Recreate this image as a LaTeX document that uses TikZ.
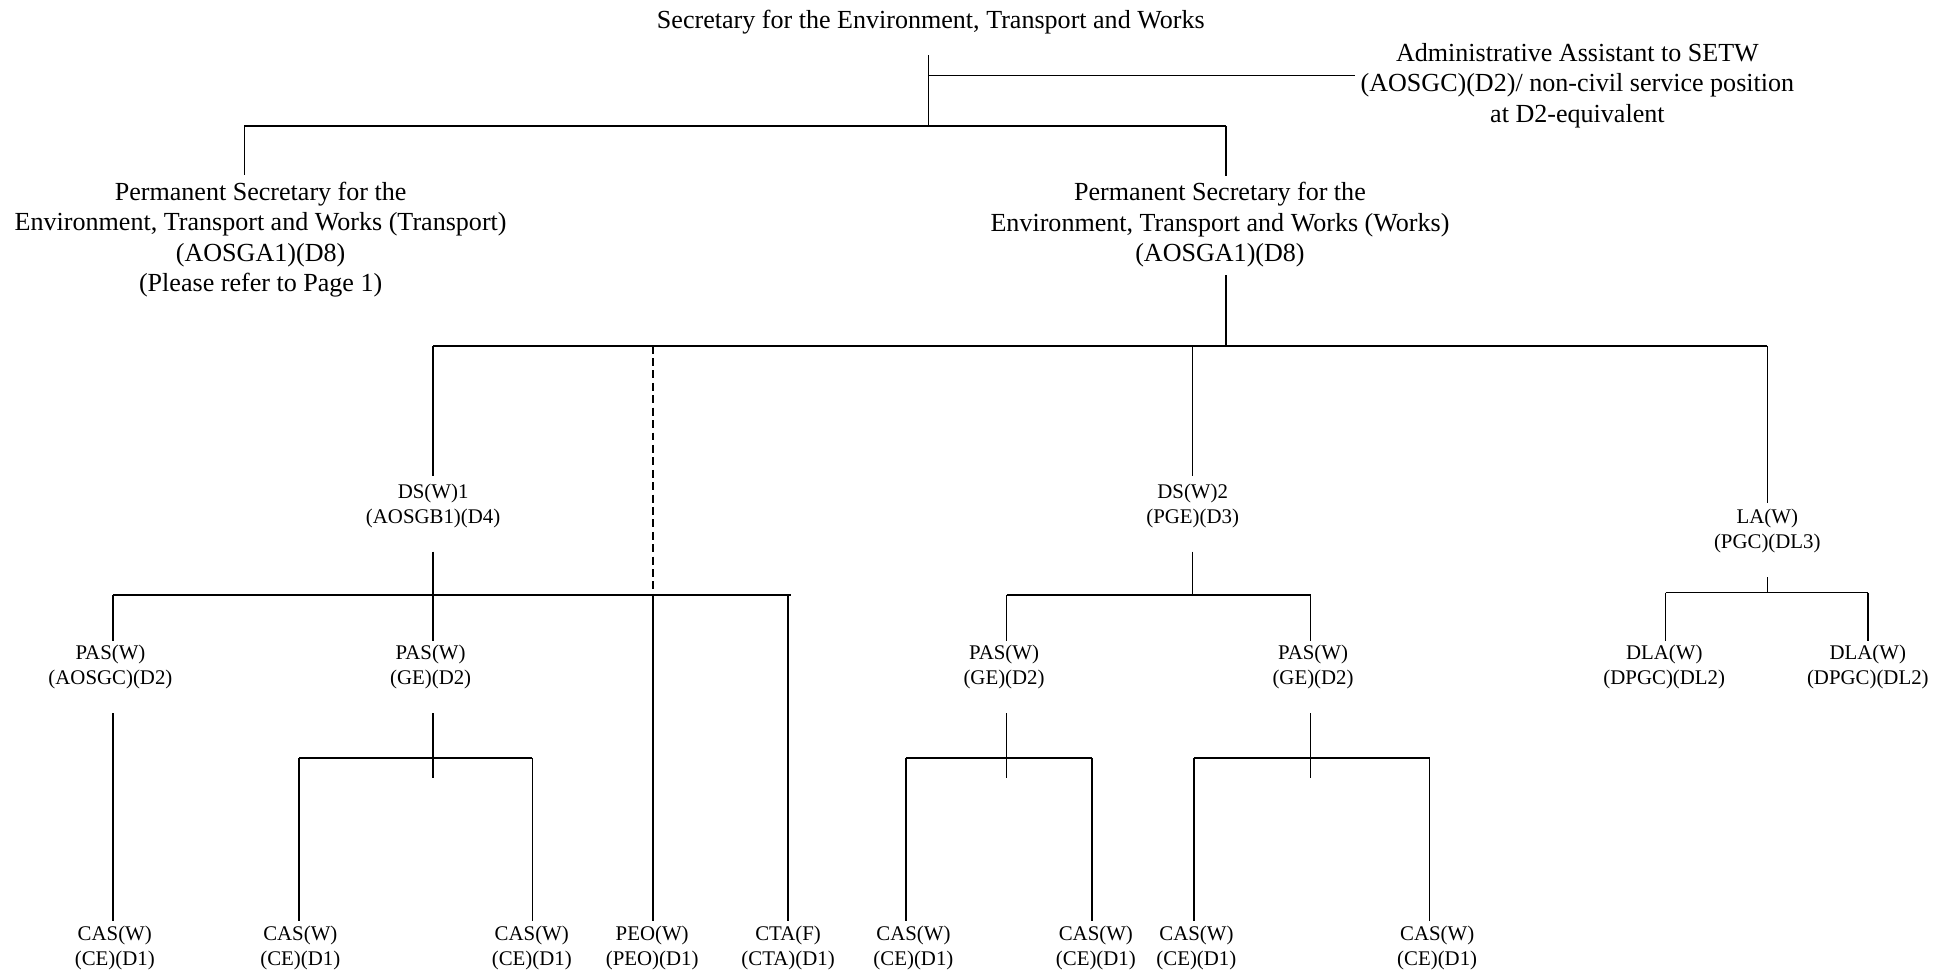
\documentclass[tikz,border=0pt]{standalone}
\usepackage{fontspec}
\setmainfont{Liberation Serif}
\begin{document}
\begin{tikzpicture}[x=0.5pt,y=-0.5pt,
  big/.style={align=center,inner sep=0pt,font=\fontsize{10.5}{12.25}\selectfont},
  small/.style={align=center,inner sep=0pt,font=\fontsize{8.4}{10}\selectfont},
  conn/.style={line width=0.6pt},
  bar/.style={line width=0.8pt},
  dashconn/.style={line width=0.6pt,dash pattern=on 3.2pt off 1.8pt},
  tonode/.style={shorten >=1.5pt},
  fromsmall/.style={shorten <=9.5pt},
]
\useasboundingbox (0,0) rectangle (1568,783);

% ---------- nodes ----------
\node[big] (setw) at (750,18) {Secretary for the Environment, Transport and Works};
\node[big] (aa) at (1271,69) {Administrative Assistant to SETW\\(AOSGC)(D2)/ non-civil service position\\at D2-equivalent};
\node[big] (pst) at (210,193) {Permanent Secretary for the\\Environment, Transport and Works (Transport)\\(AOSGA1)(D8)\\(Please refer to Page 1)};
\node[big] (psw) at (983,181) {Permanent Secretary for the\\Environment, Transport and Works (Works)\\(AOSGA1)(D8)};

\node[small] (ds1) at (349,407.5) {DS(W)1\\(AOSGB1)(D4)};
\node[small] (ds2) at (961,407.5) {DS(W)2\\(PGE)(D3)};
\node[small] (la)  at (1424,428) {LA(W)\\(PGC)(DL3)};

\node[small] (pas1) at (89,537.5)  {PAS(W)\\(AOSGC)(D2)};
\node[small] (pas2) at (347,537.5) {PAS(W)\\(GE)(D2)};
\node[small] (pas3) at (809,537.5) {PAS(W)\\(GE)(D2)};
\node[small] (pas4) at (1058,537.5) {PAS(W)\\(GE)(D2)};
\node[small] (dla1) at (1341,537.5) {DLA(W)\\(DPGC)(DL2)};
\node[small] (dla2) at (1505,537.5) {DLA(W)\\(DPGC)(DL2)};

\node[small] (cas1) at (92.5,763.5)  {CAS(W)\\(CE)(D1)};
\node[small] (cas2) at (242,763.5)   {CAS(W)\\(CE)(D1)};
\node[small] (cas3) at (428.5,763.5) {CAS(W)\\(CE)(D1)};
\node[small] (peo)  at (525.5,763.5) {PEO(W)\\(PEO)(D1)};
\node[small] (cta)  at (635,763.5)   {CTA(F)\\(CTA)(D1)};
\node[small] (cas4) at (736,763.5)   {CAS(W)\\(CE)(D1)};
\node[small] (cas5) at (883,763.5)   {CAS(W)\\(CE)(D1)};
\node[small] (cas6) at (964,763.5)   {CAS(W)\\(CE)(D1)};
\node[small] (cas7) at (1158,763.5)  {CAS(W)\\(CE)(D1)};

% ---------- junction coordinates ----------
\coordinate (ja)  at (748,60.7);
\coordinate (j0)  at (748,101.5);
\coordinate (b0l) at (197,101.5);
\coordinate (b0r) at (988,101.5);
\coordinate (j1)  at (988,278.5);
\coordinate (b1l) at (349,278.5);
\coordinate (b1d) at (526,278.5);
\coordinate (b1m) at (961,278.5);
\coordinate (b1r) at (1424,278.5);

\coordinate (b2l) at (91,479.5);
\coordinate (j2a) at (349,479.5);
\coordinate (b2d) at (526,479.5);
\coordinate (b2c) at (635,479.5);
\coordinate (b2e) at (637,479.5);
\coordinate (b2bl) at (811,479.5);
\coordinate (j2b) at (961,479.5);
\coordinate (b2br) at (1056,479.5);
\coordinate (b2cl) at (1342,477.4);
\coordinate (j2c) at (1424,477.4);
\coordinate (b2cr) at (1505,477.4);

\coordinate (j3a) at (349,611);
\coordinate (b3al) at (241,611);
\coordinate (b3ar) at (429,611);
\coordinate (j3b) at (811,611);
\coordinate (b3bl) at (730,611);
\coordinate (b3br) at (880,611);
\coordinate (j3c) at (1056,611);
\coordinate (b3cl) at (962,611);
\coordinate (b3cr) at (1152,611);

% ---------- top level ----------
\draw[conn,shorten <=8.3pt] (setw.south -| j0) -- (j0);
\draw[conn,shorten >=2pt] (ja) -- (ja -| aa.west);
\draw[bar] (b0l) -- (b0r);
\draw[conn,shorten >=2.4pt] (b0l) -- (b0l |- pst.north);
\draw[conn,shorten >=2.5pt] (b0r) -- (b0r |- psw.north);

% ---------- PS(Works) ----------
\draw[conn,shorten <=3.1pt] (psw.south -| j1) -- ([yshift=-0.6pt]j1);
\draw[bar] (b1l) -- (b1r);
\draw[conn,shorten >=3pt] (b1l) -- (ds1.north);
\draw[conn,shorten >=3pt] (b1m) -- (ds2.north);
\draw[conn,shorten >=2.5pt] (b1r) -- (la.north);
\draw[dashconn] (b1d) -- (b2d);

% ---------- DS(W)1 ----------
\draw[conn,fromsmall] (ds1.south) -- (j2a);
\draw[bar] (b2l) -- (b2e);
\draw[conn,tonode] (b2l) -- (b2l |- pas1.north);
\draw[conn,tonode] (j2a) -- (j2a |- pas2.north);
\draw[conn,tonode] (b2d) -- (b2d |- peo.north);
\draw[conn,tonode] (b2c) -- (b2c |- cta.north);

% ---------- DS(W)2 ----------
\draw[conn,fromsmall] (ds2.south) -- (j2b);
\draw[bar] (b2bl) -- (b2br);
\draw[conn,tonode] (b2bl) -- (b2bl |- pas3.north);
\draw[conn,tonode] (b2br) -- (b2br |- pas4.north);

% ---------- LA(W) ----------
\draw[conn,fromsmall] (la.south) -- (j2c);
\draw[bar] (b2cl) -- (b2cr);
\draw[conn,tonode] (b2cl) -- (b2cl |- dla1.north);
\draw[conn,tonode] (b2cr) -- (b2cr |- dla2.north);

% ---------- PAS level ----------
\draw[conn,fromsmall,tonode] (pas1.south -| b2l) -- (b2l |- cas1.north);

\draw[conn,fromsmall] (pas2.south -| j3a) -- ([yshift=-8pt]j3a);
\draw[bar] (b3al) -- (b3ar);
\draw[conn,tonode] (b3al) -- (b3al |- cas2.north);
\draw[conn,tonode] (b3ar) -- (b3ar |- cas3.north);

\draw[conn,fromsmall] (pas3.south -| j3b) -- ([yshift=-8pt]j3b);
\draw[bar] (b3bl) -- (b3br);
\draw[conn,tonode] (b3bl) -- (b3bl |- cas4.north);
\draw[conn,tonode] (b3br) -- (b3br |- cas5.north);

\draw[conn,fromsmall] (pas4.south -| j3c) -- ([yshift=-8pt]j3c);
\draw[bar] (b3cl) -- (b3cr);
\draw[conn,tonode] (b3cl) -- (b3cl |- cas6.north);
\draw[conn,tonode] (b3cr) -- (b3cr |- cas7.north);
\end{tikzpicture}
\end{document}
